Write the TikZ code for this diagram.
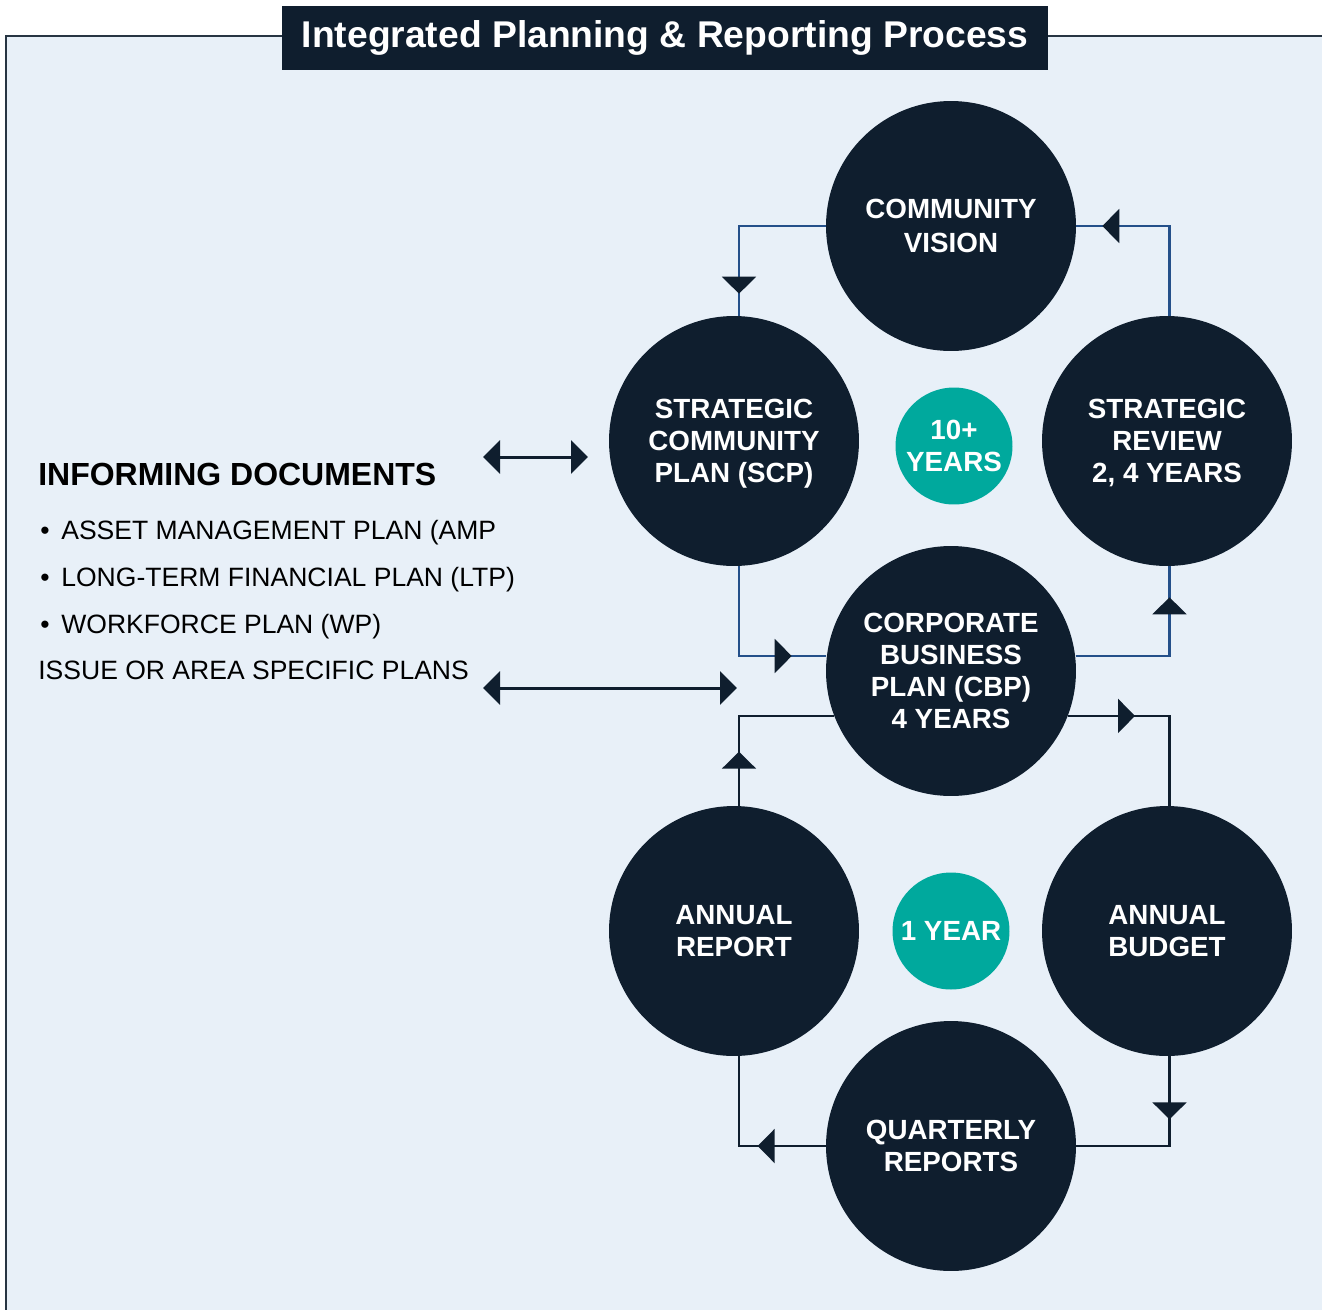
\documentclass[tikz,border=0pt]{standalone}
\usepackage{fontspec}
\setmainfont{Liberation Sans}
\usetikzlibrary{arrows.meta,decorations.markings}

\definecolor{navy}{HTML}{0F1E2E}
\definecolor{paleblue}{HTML}{E8F0F8}
\definecolor{teal}{HTML}{00A99D}
\definecolor{linkblue}{HTML}{24508A}

\begin{document}
\begin{tikzpicture}[
  x=0.02cm, y=-0.02cm,
  stage/.style={
    circle,
    fill=navy,
    text=white,
    inner sep=0pt,
    align=center,
    minimum size=5cm,
    font=\bfseries\fontsize{15.8}{18.1}\selectfont
  },
  span/.style={
    circle,
    fill=teal,
    text=white,
    inner sep=0pt,
    align=center,
    minimum size=2.34cm,
    font=\bfseries\fontsize{15.8}{18.1}\selectfont
  },
  title/.style={
    fill=navy,
    text=white,
    inner sep=0pt,
    minimum width=15.34cm,
    minimum height=1.28cm,
    font=\bfseries\fontsize{21.2}{25}\selectfont
  },
  doctext/.style={anchor=base west, inner sep=0pt, font=\fontsize{15.1}{18}\selectfont},
  link/.style={draw=linkblue, line width=1.2pt},
  darklink/.style={draw=navy, line width=1.3pt},
  % arrowhead sitting part way along a connector
  tipat/.style={
    postaction={decorate},
    decoration={markings,
      mark=at position #1 with {\arrow{Triangle[length=0.34cm,width=0.68cm,color=navy]}}}
  },
  docarrow/.style={
    draw=navy,
    line width=1.7pt,
    {Triangle[length=0.34cm,width=0.66cm]}-{Triangle[length=0.34cm,width=0.66cm]}
  }
]

% Page and framed panel.
\useasboundingbox[fill=white] (0,0) rectangle (1322,1309);
\draw[fill=paleblue, draw=navy!90, line width=1.2pt] (6,36) rectangle (1340,1340);
\node[title] (heading) at (665,38) {Integrated Planning \& Reporting Process};

% Planning cycle (long term).
\node[stage, font=\bfseries\fontsize{15.8}{19.8}\selectfont] (cv) at (951,226) {COMMUNITY\\VISION};
\node[stage] (scp) at (734,441) {STRATEGIC\\COMMUNITY\\\smash{PLAN (SCP)}};
\node[stage] (sr) at (1167,441) {STRATEGIC\\REVIEW\\\smash{2, 4 YEARS}};
\node[stage] (cbp) at (951,671) {CORPORATE\\BUSINESS\\PLAN (CBP)\\4 YEARS};
\node[span] (tenyears) at (954,446) {10+\\YEARS};

% Reporting cycle (annual).
\node[stage] (ar) at (734,931) {ANNUAL\\REPORT};
\node[stage] (ab) at (1167,931) {ANNUAL\\BUDGET};
\node[stage] (qr) at (951,1146) {QUARTERLY\\REPORTS};
\node[span] (oneyear) at (951,931) {1 YEAR};

% Informing documents.
\node[anchor=base west, inner sep=0pt, font=\bfseries\fontsize{18.2}{21}\selectfont] (informing) at (38,485) {INFORMING DOCUMENTS};
\node[doctext] (amp) at (40,539) {\makebox[0.42cm][l]{\textbullet}ASSET MANAGEMENT PLAN (AMP};
\node[doctext] (ltp) at (40,586) {\makebox[0.42cm][l]{\textbullet}LONG-TERM FINANCIAL PLAN (LTP)};
\node[doctext] (wp) at (40,633) {\makebox[0.42cm][l]{\textbullet}WORKFORCE PLAN (WP)};
\node[doctext] (specific) at (38,679) {ISSUE OR AREA SPECIFIC PLANS};

\coordinate (docs) at (483,457);
\coordinate (toscp) at (588,457);
\coordinate (plans) at (483,688);
\coordinate (tocbp) at (737,688);
\draw[docarrow] (docs) -- (toscp);
\draw[docarrow] (plans) -- (tocbp);

% Long term loop.
\draw[link, tipat=-0.44cm] (cv.west) -| ([xshift=0.1cm]scp.north);
\draw[link, tipat=-0.52cm] ([xshift=0.05cm]sr.north) |- (cv.east);
\draw[link, tipat=-0.68cm] ([xshift=0.1cm]scp.south) |- ([yshift=0.3cm]cbp.west);
\draw[link, tipat=-0.62cm] ([yshift=0.3cm]cbp.east) -| ([xshift=0.05cm]sr.south);

% Annual loop.
\draw[darklink, tipat=1.08cm] ([xshift=0.1cm]ar.north) |- (cbp.201);
\draw[darklink, tipat=1.34cm] (cbp.-21) -| ([xshift=0.05cm]ab.north);
\draw[darklink, tipat=1.26cm] ([xshift=0.05cm]ab.south) |- (qr.east);
\draw[darklink, tipat=1.36cm] (qr.west) -| ([xshift=0.1cm]ar.south);

\end{tikzpicture}
\end{document}
